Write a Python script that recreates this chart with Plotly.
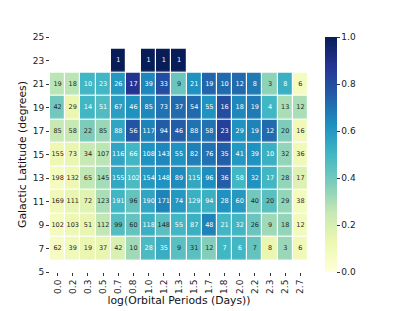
import plotly.graph_objects as go

x_labels = ["0.0","0.2","0.3","0.5","0.7","0.8","1.0","1.2","1.3","1.5","1.7","1.8","2.0","2.2","2.3","2.5","2.7"]
y_rows = [7, 9, 11, 13, 15, 17, 19, 21, 23]
y_ticks = [5, 7, 9, 11, 13, 15, 17, 19, 21, 23, 25]
N = None

# counts shown in cells (rows from 7 up to 23)
counts = [
    [62, 39, 19, 37, 42, 10, 28, 35, 9, 31, 12, 7, 6, 7, 8, 3, 6],
    [102, 103, 51, 112, 99, 60, 118, 148, 55, 87, 48, 21, 32, 26, 9, 18, 12],
    [169, 111, 72, 123, 191, 96, 190, 171, 74, 129, 94, 28, 60, 40, 20, 29, 38],
    [198, 132, 65, 145, 155, 102, 154, 148, 89, 115, 96, 36, 58, 32, 17, 28, 17],
    [155, 73, 34, 107, 116, 66, 108, 143, 55, 82, 76, 35, 41, 39, 10, 32, 36],
    [85, 58, 22, 85, 88, 56, 117, 94, 46, 88, 58, 23, 29, 19, 12, 20, 16],
    [42, 29, 14, 51, 67, 46, 85, 73, 37, 54, 55, 16, 18, 19, 4, 13, 12],
    [19, 18, 10, 23, 26, 17, 39, 33, 9, 21, 19, 10, 12, 8, 3, 8, 6],
    [N, N, N, N, 1, N, 1, 1, 1, N, N, N, N, N, N, N, N],
]

# normalized colour values
norm = [
    [0.07, 0.10, 0.13, 0.14, 0.19, 0.32, 0.48, 0.53, 0.45, 0.45, 0.37, 0.50, 0.50, 0.43, 0.13, 0.33, 0.10],
    [0.08, 0.12, 0.14, 0.26, 0.46, 0.43, 0.52, 0.45, 0.50, 0.52, 0.66, 0.50, 0.50, 0.42, 0.32, 0.34, 0.09],
    [0.10, 0.14, 0.17, 0.30, 0.50, 0.43, 0.56, 0.66, 0.60, 0.52, 0.52, 0.62, 0.60, 0.40, 0.45, 0.34, 0.08],
    [0.08, 0.12, 0.26, 0.31, 0.55, 0.48, 0.60, 0.62, 0.64, 0.55, 0.63, 0.75, 0.50, 0.62, 0.50, 0.34, 0.18],
    [0.12, 0.14, 0.25, 0.27, 0.56, 0.50, 0.62, 0.65, 0.62, 0.67, 0.70, 0.75, 0.60, 0.62, 0.52, 0.34, 0.10],
    [0.25, 0.25, 0.38, 0.33, 0.56, 0.78, 0.66, 0.76, 0.75, 0.70, 0.70, 0.84, 0.62, 0.66, 0.72, 0.38, 0.10],
    [0.40, 0.13, 0.50, 0.47, 0.58, 0.62, 0.65, 0.70, 0.72, 0.72, 0.62, 0.80, 0.65, 0.68, 0.50, 0.30, 0.30],
    [0.27, 0.27, 0.50, 0.50, 0.60, 0.88, 0.65, 0.80, 0.42, 0.62, 0.73, 0.72, 0.72, 0.68, 0.35, 0.52, 0.08],
    [N, N, N, N, 1.0, N, 1.0, 1.0, 1.0, N, N, N, N, N, N, N, N],
]

ylgnbu = ["#ffffd9", "#edf8b1", "#c7e9b4", "#7fcdbb", "#41b6c4",
          "#1d91c0", "#225ea8", "#253494", "#081d58"]
cscale = [[i / 8, c] for i, c in enumerate(ylgnbu)]

xi = list(range(len(x_labels)))
font = "DejaVu Sans"

fig = go.Figure()
fig.add_trace(go.Heatmap(
    x=xi, y=y_rows, z=norm, colorscale=cscale,
    zmin=0, zmax=1, xgap=1.2, ygap=1.2, hoverongaps=False,
    colorbar=dict(x=1.066, xanchor="left", xpad=0, ypad=0, y=0.5, yanchor="middle",
                  len=1.0, lenmode="fraction", thickness=12, outlinewidth=0,
                  tickvals=[0, 0.2, 0.4, 0.6, 0.8, 1.0],
                  ticktext=["0.0", "0.2", "0.4", "0.6", "0.8", "1.0"],
                  ticks="outside", ticklen=3, tickcolor="#333",
                  tickfont=dict(family=font, size=9, color="#222")),
))

tx, ty, tt, tc = [], [], [], []
for r, yv in enumerate(y_rows):
    for c in xi:
        v = counts[r][c]
        if v is None:
            continue
        tx.append(c); ty.append(yv); tt.append(str(v))
        tc.append("white" if norm[r][c] >= 0.47 else "#262626")
fig.add_trace(go.Scatter(x=tx, y=ty, text=tt, mode="text",
                         textfont=dict(family=font, size=6.5, color=tc),
                         hoverinfo="skip", showlegend=False))

fig.update_layout(
    width=415, height=311,
    margin=dict(l=50, r=107, t=37, b=39, autoexpand=False),
    paper_bgcolor="white", plot_bgcolor="white",
    showlegend=False,
    xaxis=dict(range=[-0.5, 16.5], tickvals=xi, ticktext=x_labels, tickangle=-90,
               automargin=False,
               ticks="outside", ticklen=3, tickcolor="#333", showgrid=False, zeroline=False,
               tickfont=dict(family=font, size=9, color="#222"),
               title=dict(text="log(Orbital Periods (Days))", standoff=2,
                          font=dict(family=font, size=10.8, color="#111"))),
    yaxis=dict(range=[5, 25], tickvals=y_ticks, ticks="outside", ticklen=3, tickcolor="#333",
               automargin=False,
               showgrid=False, zeroline=False,
               tickfont=dict(family=font, size=9, color="#222"),
               title=dict(text="Galactic Latitude (degrees)", standoff=3,
                          font=dict(family=font, size=10.8, color="#111"))),
)

fig.write_html("out.html", config={"displayModeBar": False},
               post_script="document.body.style.margin='0';document.body.style.padding='0';")
